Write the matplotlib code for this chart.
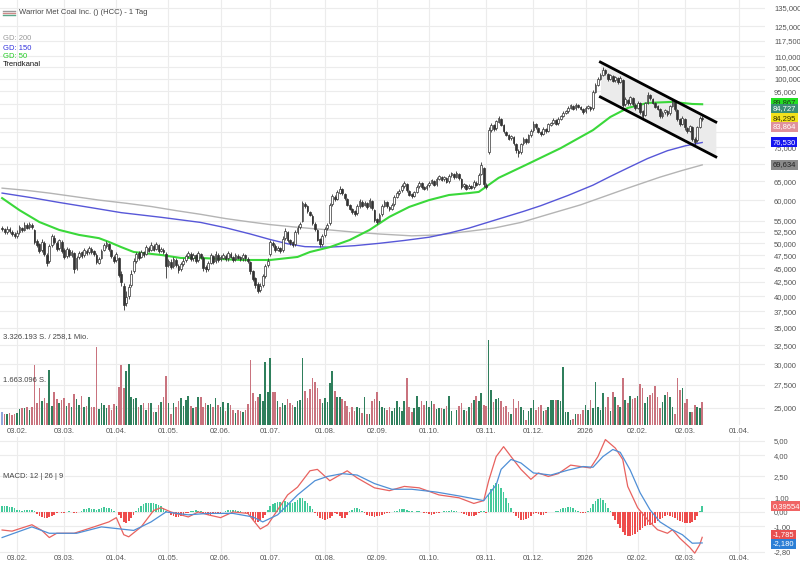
import matplotlib
matplotlib.use("Agg")
import matplotlib.pyplot as plt
from matplotlib.lines import Line2D
from matplotlib.ticker import FixedLocator, FuncFormatter, NullLocator
import numpy as np

plt.rcParams['font.family'] = ['Liberation Sans', 'DejaVu Sans']

# daily candles, one per trading day (index 0 = first visible day)
opens = [
    53.4, 53.1, 52.5, 53.0, 52.5, 52.1, 51.6, 52.4, 53.3, 52.9,
    54.1, 53.5, 54.1, 52.8, 50.4, 49.8, 48.6, 50.0, 47.6, 46.5,
    49.7, 51.2, 50.0, 49.0, 50.3, 48.6, 47.4, 48.7, 47.6, 47.9,
    45.0, 47.2, 48.1, 47.5, 48.4, 48.1, 48.8, 48.3, 47.6, 46.1,
    47.0, 48.6, 49.5, 49.8, 48.6, 47.1, 46.6, 46.9, 43.9, 41.8,
    38.9, 40.0, 42.0, 44.5, 46.4, 47.9, 47.2, 48.1, 47.8, 49.0,
    48.7, 49.5, 48.9, 49.6, 48.5, 48.7, 47.8, 45.7, 46.3, 45.4,
    46.6, 45.4, 44.8, 45.9, 46.6, 47.3, 47.8, 46.9, 47.5, 46.6,
    47.7, 47.0, 45.2, 44.9, 46.1, 47.3, 46.4, 47.6, 46.8, 47.0,
    47.4, 46.9, 47.8, 47.1, 46.8, 47.4, 47.1, 46.9, 47.5, 46.8,
    46.2, 44.4, 43.1, 42.1, 41.0, 42.0, 43.6, 45.6, 47.8, 50.0,
    49.5, 48.7, 49.0, 48.6, 51.2, 52.4, 50.6, 50.2, 49.8, 52.4,
    53.5, 55.0, 59.0, 58.4, 57.0, 56.2, 54.3, 52.8, 50.9, 49.9,
    51.7, 53.3, 54.5, 59.0, 60.8, 60.3, 61.9, 62.8, 61.6, 60.3,
    58.7, 57.8, 57.2, 56.8, 58.5, 59.6, 58.8, 59.2, 58.4, 59.8,
    57.6, 55.3, 55.0, 56.6, 58.6, 59.4, 58.2, 57.9, 59.0, 60.9,
    61.7, 62.5, 63.6, 64.2, 62.4, 61.5, 61.1, 62.2, 63.6, 64.4,
    63.5, 63.1, 63.9, 64.6, 65.0, 64.2, 65.7, 66.1, 65.5, 65.8,
    65.0, 66.6, 67.0, 66.2, 67.1, 65.5, 63.6, 64.0, 63.2, 63.6,
    63.4, 64.6, 64.3, 67.0, 68.8, 64.0, 73.5, 80.6, 82.3, 81.2,
    83.4, 84.5, 82.2, 80.0, 78.8, 77.9, 78.3, 76.0, 73.8, 73.5,
    76.2, 77.6, 76.8, 78.9, 80.6, 82.6, 81.3, 79.9, 79.4, 80.9,
    80.4, 82.4, 83.1, 84.0, 83.0, 84.5, 85.6, 86.6, 87.3, 88.5,
    89.3, 88.4, 89.6, 88.9, 88.0, 87.2, 88.5, 89.0, 88.3, 94.8,
    97.6, 100.0, 101.8, 103.8, 102.2, 100.2, 101.2, 99.4, 100.6, 98.8,
    99.5, 90.0, 91.6, 90.4, 92.4, 89.8, 88.6, 90.3, 87.2, 86.0,
    90.5, 93.4, 92.0, 90.3, 89.2, 88.0, 85.6, 86.9, 87.4, 86.5,
    89.4, 90.8, 87.6, 84.3, 82.8, 84.6, 81.4, 80.4, 81.6, 77.8,
    77.2, 81.8, 84.8]
highs = [
    53.8, 53.4, 53.7, 53.5, 52.9, 52.5, 52.8, 53.9, 53.6, 54.6,
    54.5, 54.8, 54.4, 53.1, 50.9, 50.1, 50.9, 50.4, 48.0, 49.9,
    52.0, 51.7, 50.4, 51.0, 50.6, 49.0, 49.3, 49.1, 48.6, 48.2,
    47.4, 48.5, 48.5, 49.0, 48.8, 49.5, 49.2, 48.6, 47.9, 47.2,
    48.9, 50.0, 50.5, 50.1, 48.9, 47.5, 48.2, 47.2, 44.4, 42.3,
    40.8, 42.2, 44.6, 47.0, 48.2, 48.3, 48.7, 48.4, 49.6, 49.4,
    50.2, 49.8, 50.3, 49.9, 49.2, 49.0, 48.1, 46.8, 46.7, 47.2,
    46.9, 45.8, 46.2, 46.9, 47.8, 48.5, 48.1, 48.0, 47.8, 48.4,
    48.0, 47.3, 45.6, 46.4, 47.9, 47.6, 48.3, 47.9, 47.6, 47.9,
    47.7, 48.4, 48.1, 47.4, 47.9, 47.7, 47.4, 48.0, 47.8, 47.1,
    46.5, 44.7, 43.4, 42.4, 42.3, 43.9, 45.8, 46.9, 50.7, 50.4,
    49.8, 49.4, 49.3, 51.5, 53.4, 52.7, 50.9, 50.5, 52.9, 53.9,
    54.7, 59.8, 59.5, 58.7, 57.4, 56.5, 54.6, 53.1, 51.2, 52.0,
    53.6, 54.5, 59.3, 61.6, 61.2, 62.5, 63.7, 63.1, 61.9, 60.6,
    59.0, 58.1, 57.5, 58.9, 60.4, 59.9, 59.7, 59.5, 60.6, 60.1,
    57.9, 55.6, 56.8, 58.9, 60.0, 59.7, 58.5, 59.2, 61.2, 62.3,
    62.8, 64.3, 64.9, 64.5, 62.7, 61.8, 62.4, 63.9, 65.1, 64.7,
    63.8, 64.2, 64.9, 65.6, 65.3, 66.0, 66.8, 66.4, 66.3, 66.1,
    66.9, 67.6, 67.3, 67.9, 67.4, 65.8, 64.6, 64.3, 64.1, 63.9,
    65.2, 64.9, 67.3, 70.4, 69.1, 64.4, 81.6, 83.2, 82.7, 84.2,
    85.6, 84.9, 82.6, 80.4, 79.2, 79.0, 78.7, 76.4, 74.3, 76.5,
    78.3, 78.0, 79.3, 80.9, 83.8, 83.0, 81.7, 80.3, 81.5, 81.3,
    83.1, 83.5, 84.7, 84.4, 85.1, 85.9, 87.3, 87.7, 89.1, 90.0,
    89.7, 90.3, 90.0, 89.3, 88.4, 89.1, 89.7, 89.4, 95.5, 98.3,
    101.0, 102.4, 105.2, 104.3, 102.6, 102.2, 101.6, 101.4, 101.0, 101.2,
    100.2, 92.5, 92.0, 93.2, 92.8, 90.3, 91.1, 90.7, 87.6, 90.8,
    94.6, 93.9, 92.4, 90.7, 89.6, 88.4, 87.3, 88.1, 87.8, 89.8,
    91.7, 91.2, 88.0, 84.7, 85.6, 85.0, 81.8, 82.5, 82.0, 78.3,
    82.0, 85.6, 85.4]
lows = [
    52.6, 52.0, 52.1, 52.2, 51.6, 51.1, 51.2, 52.1, 52.4, 52.6,
    53.0, 53.2, 53.2, 49.8, 49.2, 48.0, 48.2, 47.3, 45.5, 46.1,
    49.3, 49.8, 48.4, 48.6, 48.0, 46.8, 47.0, 47.1, 47.2, 44.2,
    44.6, 46.8, 46.9, 47.1, 47.6, 47.7, 47.8, 47.4, 45.9, 45.8,
    46.7, 48.3, 49.1, 48.4, 46.9, 46.0, 46.2, 43.3, 41.8, 37.7,
    38.4, 39.5, 41.6, 44.1, 46.0, 46.6, 46.9, 47.2, 47.5, 48.1,
    48.4, 48.3, 48.6, 48.0, 48.1, 47.8, 43.2, 45.3, 44.8, 45.0,
    45.2, 44.2, 44.4, 45.5, 46.2, 47.0, 46.4, 46.5, 46.0, 46.2,
    46.8, 44.5, 44.3, 44.5, 45.8, 45.8, 46.0, 46.2, 46.4, 46.7,
    46.4, 46.5, 46.9, 46.2, 46.4, 46.7, 46.4, 46.5, 46.5, 46.0,
    44.0, 42.6, 41.4, 40.6, 40.7, 41.6, 43.2, 45.2, 47.4, 49.2,
    48.2, 48.3, 47.9, 48.2, 50.8, 50.3, 49.6, 49.2, 49.5, 52.0,
    53.1, 54.6, 58.1, 56.8, 56.0, 54.1, 52.6, 50.4, 49.3, 49.5,
    51.3, 52.9, 54.1, 58.6, 59.8, 59.9, 61.5, 61.4, 60.1, 58.4,
    57.5, 56.6, 56.2, 56.4, 58.1, 58.2, 58.4, 57.8, 58.0, 57.6,
    54.7, 54.3, 54.6, 56.2, 58.2, 58.0, 57.4, 57.5, 58.6, 60.5,
    61.3, 62.1, 63.2, 62.2, 61.0, 60.6, 60.7, 61.8, 63.2, 63.0,
    62.6, 62.7, 63.5, 64.2, 63.6, 63.8, 65.3, 65.0, 65.1, 64.4,
    64.6, 66.2, 65.6, 65.8, 65.4, 63.0, 63.2, 62.6, 62.8, 62.8,
    63.0, 63.6, 63.9, 66.6, 63.4, 62.9, 72.8, 80.0, 80.4, 80.7,
    82.9, 82.0, 79.6, 78.5, 77.3, 77.4, 75.6, 73.2, 72.0, 73.0,
    75.7, 76.1, 76.3, 78.4, 80.1, 81.0, 79.5, 78.7, 78.9, 79.7,
    79.9, 81.9, 82.6, 82.3, 82.5, 84.0, 85.1, 86.1, 86.8, 88.0,
    87.7, 87.9, 88.5, 87.7, 86.4, 86.7, 88.0, 87.5, 87.8, 94.2,
    97.0, 99.4, 101.2, 101.9, 99.3, 99.6, 98.6, 98.8, 98.0, 98.2,
    89.0, 89.4, 89.6, 89.8, 89.4, 87.8, 88.0, 86.4, 85.0, 85.5,
    90.0, 91.6, 89.9, 88.4, 87.6, 84.8, 85.0, 86.3, 85.6, 86.0,
    88.8, 87.4, 83.8, 82.0, 82.2, 80.8, 79.5, 79.8, 77.0, 75.7,
    76.6, 81.2, 83.6]
closes = [
    53.0, 52.4, 53.2, 52.6, 52.0, 51.5, 52.3, 53.5, 52.8, 54.0,
    53.4, 54.3, 53.6, 50.2, 49.6, 48.5, 50.3, 47.8, 46.0, 49.5,
    51.5, 50.2, 48.8, 50.6, 48.4, 47.2, 48.9, 47.5, 48.2, 44.8,
    47.0, 48.0, 47.3, 48.6, 48.0, 49.0, 48.2, 47.8, 46.3, 46.8,
    48.5, 49.6, 50.0, 48.8, 47.3, 46.4, 47.8, 43.8, 42.5, 38.5,
    39.8, 41.5, 44.0, 46.5, 47.8, 47.0, 48.2, 47.6, 49.2, 48.5,
    49.6, 48.7, 49.8, 48.4, 48.8, 48.2, 45.5, 46.4, 45.2, 46.8,
    45.6, 44.6, 45.8, 46.5, 47.4, 48.0, 46.8, 47.6, 46.4, 47.9,
    47.2, 45.0, 44.8, 46.0, 47.5, 46.2, 47.8, 46.6, 47.2, 47.5,
    46.8, 47.9, 47.2, 46.6, 47.5, 47.0, 46.8, 47.6, 46.9, 46.4,
    44.5, 43.0, 42.0, 40.8, 41.8, 43.5, 45.4, 46.5, 50.2, 49.6,
    48.6, 49.0, 48.3, 51.0, 52.6, 50.8, 50.0, 49.6, 52.5, 53.4,
    54.2, 59.2, 58.6, 57.2, 56.4, 54.5, 53.0, 50.8, 49.8, 51.6,
    53.2, 54.0, 58.8, 61.0, 60.2, 62.0, 63.0, 61.8, 60.5, 58.8,
    57.9, 57.0, 56.6, 58.4, 59.8, 58.6, 59.3, 58.2, 60.0, 58.0,
    55.2, 54.8, 56.4, 58.5, 59.5, 58.4, 57.8, 58.8, 60.8, 61.8,
    62.4, 63.8, 64.4, 62.6, 61.4, 61.0, 62.0, 63.5, 64.6, 63.4,
    63.0, 63.8, 64.5, 65.2, 64.0, 65.6, 66.3, 65.4, 66.0, 64.8,
    66.5, 67.2, 66.0, 67.4, 65.8, 63.4, 64.2, 63.0, 63.8, 63.2,
    64.8, 64.0, 66.8, 69.5, 64.2, 63.5, 80.8, 82.5, 81.0, 83.6,
    84.8, 82.5, 80.2, 79.0, 77.8, 78.6, 76.2, 74.0, 73.2, 76.0,
    77.8, 76.6, 78.8, 80.4, 82.8, 81.5, 80.0, 79.2, 81.0, 80.2,
    82.6, 83.0, 84.2, 82.8, 84.6, 85.4, 86.8, 87.2, 88.6, 89.5,
    88.2, 89.8, 89.0, 88.2, 87.0, 88.6, 89.2, 88.0, 94.5, 97.5,
    100.2, 101.5, 104.0, 102.5, 100.0, 101.5, 99.2, 100.8, 98.6, 100.5,
    89.8, 91.8, 90.2, 92.6, 90.0, 88.4, 90.5, 87.0, 85.6, 90.2,
    93.6, 92.2, 90.5, 89.0, 88.2, 85.4, 86.8, 87.6, 86.2, 89.2,
    91.0, 88.0, 84.5, 82.6, 85.0, 81.5, 80.2, 82.0, 77.6, 76.8,
    81.5, 85.0, 84.3]

# volume in million shares
volume_mio = [
    0.52, 0.45, 0.42, 0.46, 0.40, 0.44, 0.48, 0.62, 0.68, 0.66,
    0.72, 0.58, 0.70, 2.35, 0.85, 1.43, 0.95, 1.05, 0.85, 2.15,
    0.75, 1.30, 1.00, 0.85, 0.98, 1.05, 0.75, 0.85, 0.70, 1.20,
    1.00, 0.80, 1.15, 0.70, 0.75, 1.10, 0.70, 0.72, 3.06, 0.62,
    0.85, 0.78, 0.65, 0.80, 0.60, 0.82, 0.75, 1.50, 2.35, 1.43,
    2.10, 2.40, 1.10, 1.00, 1.05, 0.70, 0.78, 0.85, 0.60, 0.85,
    0.85, 0.50, 0.50, 0.78, 0.90, 1.10, 1.93, 0.85, 0.45, 0.85,
    0.72, 0.95, 1.05, 0.75, 0.98, 1.15, 0.75, 0.68, 0.72, 1.08,
    1.08, 0.70, 0.85, 0.78, 0.82, 0.72, 1.05, 0.80, 0.70, 0.90,
    0.55, 0.88, 0.80, 0.60, 0.48, 0.60, 0.55, 0.52, 0.58, 0.82,
    2.54, 1.25, 0.95, 1.10, 1.20, 0.95, 2.48, 1.30, 2.63, 1.30,
    1.28, 0.95, 0.72, 0.88, 0.78, 1.00, 0.88, 0.78, 0.72, 0.95,
    0.98, 2.63, 1.35, 1.05, 1.40, 1.83, 1.70, 1.45, 1.00, 0.85,
    1.05, 0.90, 1.63, 2.10, 1.35, 1.08, 1.10, 1.02, 0.95, 0.75,
    0.52, 0.72, 0.55, 0.72, 0.65, 0.48, 1.10, 0.45, 0.45, 0.92,
    1.00, 1.30, 0.95, 0.72, 0.65, 0.60, 0.70, 0.55, 0.65, 0.95,
    0.70, 0.55, 0.95, 1.83, 0.70, 0.50, 0.65, 1.15, 0.72, 0.95,
    0.80, 0.92, 0.70, 0.92, 0.82, 0.62, 0.68, 0.68, 0.62, 0.75,
    1.12, 0.55, 0.00, 0.60, 0.75, 0.88, 0.60, 0.55, 0.70, 0.85,
    0.98, 1.15, 0.95, 1.24, 0.80, 0.75, 3.33, 1.37, 0.90, 1.00,
    1.05, 0.92, 0.70, 0.75, 0.50, 0.42, 1.00, 0.68, 0.95, 0.70,
    0.60, 0.20, 0.55, 0.65, 0.98, 0.60, 0.72, 0.78, 0.55, 0.60,
    0.70, 0.98, 0.98, 0.98, 0.98, 0.93, 2.28, 0.52, 0.52, 0.20,
    0.25, 0.45, 0.45, 0.42, 0.58, 0.78, 0.60, 0.98, 0.65, 1.70,
    0.72, 0.58, 1.24, 0.72, 1.10, 0.55, 1.30, 1.10, 0.78, 0.72,
    1.85, 0.98, 0.85, 1.15, 1.00, 1.05, 1.12, 1.60, 1.45, 0.85,
    1.10, 1.18, 1.24, 1.52, 1.10, 0.65, 0.90, 1.18, 1.30, 1.10,
    0.72, 0.45, 1.85, 1.37, 1.43, 0.85, 1.00, 0.50, 0.50, 0.78,
    0.70, 0.65, 0.91]
volume_max_mio = 3.326193

# moving averages (sampled along the lines)
gd200_idx = [0, 10, 19, 29, 39, 50, 60, 70, 80, 90, 100, 108, 117, 125, 132, 142, 152, 165,
             176, 188, 198, 209, 220, 233, 242, 252, 265, 274, 282]
gd200_val = [63.1, 62.5, 61.8, 60.9, 60.0, 59.2, 58.4, 57.4, 56.5, 55.5, 54.7, 54.1, 53.6, 53.2, 52.9, 52.4, 52.0, 51.6,
             51.8, 52.6, 53.3, 54.6, 56.5, 58.8, 60.8, 63.1, 66.1, 68.0, 69.6]
gd150_idx = [0, 12, 23, 36, 48, 64, 80, 90, 100, 108, 115, 122, 132, 142, 152, 162, 172, 180,
             188, 200, 210, 217, 228, 238, 245, 252, 260, 268, 275, 282]
gd150_val = [61.8, 60.6, 59.4, 58.1, 56.9, 55.8, 54.6, 53.4, 52.0, 50.8, 49.9, 49.3, 49.2, 49.5, 50.0, 50.6, 51.3, 52.2,
             53.3, 55.4, 57.2, 58.6, 61.2, 63.9, 66.3, 68.7, 71.5, 73.9, 75.4, 76.5]
gd50_idx = [0, 7, 15, 23, 31, 39, 43, 48, 53, 64, 72, 80, 88, 96, 108, 119, 124, 132,
            140, 148, 156, 164, 172, 180, 188, 192, 200, 211, 225, 238, 245, 252, 260, 270, 278, 282]
gd50_val = [60.5, 57.5, 54.7, 52.9, 51.8, 51.1, 50.3, 49.2, 48.2, 47.6, 47.0, 47.0, 46.8, 46.6, 46.6, 47.2, 48.2, 49.2,
            50.7, 52.9, 55.9, 58.3, 60.0, 61.3, 61.8, 62.1, 65.9, 69.6, 74.7, 80.6, 85.2, 88.5, 90.4, 90.8, 90.0, 89.9]

# trend channel
channel_idx = [241, 287.5]
channel_upper = [107.4, 83.4]
channel_lower = [92.7, 72.0]

# MACD 12/26/9
macd_hist = [
    0.40, 0.45, 0.42, 0.38, 0.35, 0.30,
    0.15, 0.12, 0.10, 0.12, 0.15, 0.14, 0.12, 0.10,
    -0.15, -0.25, -0.35, -0.40, -0.45, -0.38, -0.30, -0.20,
    -0.05, 0.02, -0.08, -0.04, 0.03, 0.05, -0.03, -0.10, -0.06, 0.02,
    0.10, 0.18, 0.20, 0.25, 0.22, 0.18, 0.12, 0.20, 0.28, 0.32, 0.30, 0.25, 0.18, 0.10, 0.02,
    -0.20, -0.45, -0.70, -0.75, -0.65, -0.45, -0.20,
    0.10, 0.30, 0.45, 0.55, 0.62, 0.65, 0.64, 0.60, 0.55, 0.48, 0.40, 0.28, 0.10,
    -0.10, -0.22, -0.30, -0.35, -0.32, -0.25, -0.18, -0.10, -0.04,
    0.05, 0.10, 0.12, 0.08, 0.04, -0.05,
    -0.12, -0.18, -0.20, -0.15, -0.12, -0.08, -0.05, -0.02,
    0.05, 0.12, 0.15, 0.15, 0.12, 0.08, 0.05, 0.02, -0.04,
    -0.15, -0.35, -0.55, -0.70, -0.72, -0.60, -0.45, -0.20,
    0.15, 0.40, 0.55, 0.62, 0.70, 0.68, 0.72, 0.75, 0.70, 0.62, 0.60,
    0.70, 0.85, 1.00, 0.95, 0.80, 0.60, 0.40, 0.20,
    -0.05, -0.25, -0.40, -0.50, -0.55, -0.50, -0.40, -0.25, -0.10, -0.15, -0.30, -0.45, -0.40,
    -0.20, 0.05, 0.15, 0.25, 0.30, 0.22, 0.10,
    -0.10, -0.20, -0.25, -0.30, -0.35, -0.30, -0.25, -0.20, -0.15, -0.10, -0.05, 0.02, 0.05,
    0.10, 0.18, 0.22, 0.20, 0.15, 0.10, 0.05, 0.02, 0.05, 0.08,
    0.02, -0.05, -0.10, -0.15, -0.18, -0.12, -0.08, -0.05, 0.02, 0.05,
    0.08, 0.10, 0.12, 0.08, 0.05, 0.02, -0.08, -0.15, -0.22, -0.28, -0.30, -0.25,
    -0.20, -0.10, 0.10, 0.05, -0.05,
    1.20, 1.60, 1.90, 2.05, 1.95, 1.70, 1.40, 1.00, 0.60, 0.25,
    -0.10, -0.30, -0.45, -0.55, -0.55, -0.50, -0.40, -0.28, -0.12,
    -0.05, -0.15, -0.22, -0.18, -0.10, -0.03, 0.00, 0.02,
    0.05, 0.10, 0.18, 0.25, 0.30, 0.35, 0.32, 0.25, 0.15, 0.05,
    -0.05, -0.10, -0.08,
    0.10, 0.30, 0.55, 0.75, 0.90, 0.95, 0.85, 0.60, 0.30, 0.05,
    -0.30, -0.55, -0.85, -1.15, -1.40, -1.60, -1.70, -1.72, -1.65, -1.55, -1.40, -1.25,
    -1.10, -1.00, -0.95, -0.90, -0.85, -0.75, -0.65, -0.50, -0.40, -0.30, -0.20,
    -0.25, -0.35, -0.45, -0.55, -0.62, -0.70, -0.78, -0.80, -0.78, -0.70, -0.55, -0.30,
    0.10, 0.40]
macd_idx = [0, 4, 12, 16, 19, 22, 29, 37, 43, 46, 49, 51, 56, 61, 64, 68, 72, 75, 79, 83,
            88, 93, 99, 101, 104, 107, 111, 115, 119, 124, 127, 132, 136, 139, 143, 150, 156, 162, 168, 176,
            184, 190, 194, 196, 199, 202, 205, 209, 213, 216, 220, 224, 229, 233, 237, 240, 243, 247, 250, 252,
            256, 260, 264, 268, 270, 273, 277, 279, 281, 282]
macd_val = [-1.27, -1.35, -0.9, -1.3, -1.8, -1.5, -1.5, -1.05, -0.7, -0.4, -1.6, -1.75, -1.05, 0.1, 0.3, 0.0, -0.2, -0.35, 0.0, -0.2,
            -0.4, 0.0, -0.1, -0.55, -1.2, -0.9, 0.15, 1.2, 1.75, 2.9, 3.0, 2.2, 2.6, 2.9, 2.4, 1.7, 1.5, 1.8, 1.7, 1.2,
            1.0, 0.6, 0.8, 2.2, 3.9, 4.6, 3.9, 3.0, 2.3, 2.75, 2.5, 2.7, 3.3, 3.2, 3.1, 3.9, 5.1, 4.5, 3.7, 1.8,
            0.3, -0.55, -1.25, -1.5, -1.25, -1.85, -2.5, -2.9, -2.3, -1.785]
signal_idx = [0, 12, 19, 30, 40, 53, 60, 66, 75, 83, 93, 101, 105, 111, 115, 119, 126, 131, 137, 143,
              150, 157, 165, 175, 185, 194, 199, 201, 205, 209, 214, 221, 228, 234, 238, 242, 246, 249, 253, 257,
              261, 265, 270, 274, 278, 282]
signal_val = [-1.8, -1.05, -1.5, -1.5, -1.05, -1.3, -0.7, 0.0, -0.2, -0.1, -0.1, -0.35, -0.7, -0.2, 0.5, 1.2, 2.2, 2.5, 2.7, 2.6,
              2.0, 1.6, 1.6, 1.4, 1.1, 0.8, 1.9, 3.0, 3.7, 3.45, 2.75, 2.6, 2.95, 3.2, 3.15, 3.9, 4.4, 4.2, 2.95, 1.35,
              0.15, -0.7, -1.25, -1.6, -2.2, -2.18]

# axes labels
date_idx = [6, 25, 46, 67, 88, 108, 130, 151, 172, 195, 214, 235, 256, 275, 297]
date_labels = ["03.02.", "03.03.", "01.04.", "01.05.", "02.06.", "01.07.", "01.08.", "02.09.",
               "01.10.", "03.11.", "01.12.", "2026", "02.02.", "02.03.", "01.04."]
price_ticks = [135, 125, 117.5, 110, 105, 100, 95, 75, 65, 60, 55, 52.5, 50,
               47.5, 45, 42.5, 40, 37.5, 35, 32.5, 30, 27.5, 25]
price_grid = [90, 85, 80, 70]
macd_ticks = [5.0, 4.0, 2.5, 1.0, 0.0, -1.0, -2.8]

# value tags on the right
tag_values = [89.867, 84.727, 84.295, 83.864, 76.530, 69.634]
tag_text = ["89,867", "84,727", "84,295", "83,864", "76,530", "69,634"]
tag_bg = ["#22e022", "#3b8f74", "#f2e21c", "#e0909a", "#1515f0", "#8a8a8a"]
tag_fg = ["#1a3a1a", "#ffffff", "#333300", "#ffffff", "#ffffff", "#222222"]
tag_shift = [1.2, 6.7, 0.9, -4.5, 0, 0]
macd_tag_values = [0.39554, -1.785, -2.180]
macd_tag_text = ["0,39554", "-1,785", "-2,180"]
macd_tag_bg = ["#f06464", "#e85050", "#2c7fd6"]
macd_tag_shift = [0, 1.8, -0.8]

# ---------------------------------------------------------------
W, H = 800, 565
FS = 5.5
fig = plt.figure(figsize=(8, 5.65), dpi=100)
right = 765 / W
xlim = (-0.85, 307.3)
grid_c = "#ececec"
txt_c = "#555555"

ax = fig.add_axes([0, (H - 425) / H, right, 425 / H])
axv = fig.add_axes([0, (H - 425) / H, right, 90 / H])
axm = fig.add_axes([0, 10 / H, right, 118 / H])

o = np.array(opens)
h = np.array(highs)
l = np.array(lows)
c = np.array(closes)
x = np.arange(len(c))
up = c >= o

ax.set_yscale("log")
ax.set_ylim(23.23, 139.56)
ax.set_xlim(*xlim)
ax.set_axisbelow(True)
for g in price_grid:
    ax.axhline(g, color=grid_c, lw=0.8, zorder=0)

ax.fill_between(channel_idx, channel_lower, channel_upper, color="#ebebeb", lw=0, zorder=1)
ax.plot(gd200_idx, gd200_val, color="#b4b4b4", lw=1.0, zorder=2)
ax.plot(gd150_idx, gd150_val, color="#5757d8", lw=1.0, zorder=2)
ax.plot(gd50_idx, gd50_val, color="#3ad83a", lw=1.5, zorder=2)

ax.vlines(x, l, h, color="#333333", lw=0.6, zorder=3)
ax.bar(x[up], (c - o)[up], bottom=o[up], width=0.7, color="white", edgecolor="#333333", lw=0.5, zorder=4)
ax.bar(x[~up], (o - c)[~up], bottom=c[~up], width=0.7, color="#333333", edgecolor="#333333", lw=0.5, zorder=4)

ax.plot(channel_idx, channel_upper, color="black", lw=2, zorder=5)
ax.plot(channel_idx, channel_lower, color="black", lw=2, zorder=5)

ax.yaxis.set_major_locator(FixedLocator(price_ticks))
ax.yaxis.set_minor_locator(NullLocator())
ax.yaxis.set_major_formatter(FuncFormatter(lambda v, p: f"{v:.3f}".replace(".", ",")))
ax.yaxis.tick_right()
ax.set_xticks(date_idx)
ax.set_xticklabels(date_labels)
ax.tick_params(axis="y", length=0, pad=6.5, labelsize=FS, labelcolor=txt_c)
ax.tick_params(axis="x", length=0, pad=2.5, labelsize=FS, labelcolor=txt_c)
ax.grid(True, color=grid_c, lw=0.8)
for s in ax.spines.values():
    s.set_visible(False)

for val, t, bg, fg, dy in zip(tag_values, tag_text, tag_bg, tag_fg, tag_shift):
    ax.annotate(t, xy=(1, val), xycoords=("axes fraction", "data"), xytext=(5.5, dy),
                textcoords="offset points", va="center", ha="left", fontsize=FS, color=fg,
                bbox=dict(boxstyle="square,pad=0.2", fc=bg, ec="none"), annotation_clip=False, zorder=10)

# volume
vol = np.array(volume_mio)
xv = np.arange(len(vol))
vcol = ["#8fa6da"] + ["#2f7f5c" if closes[i] >= closes[i - 1] else "#c9737e" for i in range(1, len(vol))]
axv.bar(xv, vol, width=0.65, color=vcol, lw=0)
axv.set_xlim(*xlim)
axv.set_ylim(0, volume_max_mio * 90 / 85)
axv.axis("off")
axv.patch.set_alpha(0)

# MACD
hist = np.array(macd_hist)
xh = np.arange(len(hist))
axm.bar(xh, hist, width=0.65, color=np.where(hist >= 0, "#43c99a", "#ee4c4c"), lw=0)
axm.plot(macd_idx, macd_val, color="#e8625f", lw=0.9)
axm.plot(signal_idx, signal_val, color="#4f8fd6", lw=0.9)
axm.set_xlim(*xlim)
axm.set_ylim(-3.03, 5.28)
axm.set_axisbelow(True)
axm.set_yticks(macd_ticks)
axm.yaxis.set_major_formatter(FuncFormatter(lambda v, p: f"{v:.2f}".replace(".", ",")))
axm.yaxis.tick_right()
axm.set_xticks(date_idx)
axm.set_xticklabels(date_labels)
axm.tick_params(axis="y", length=0, pad=6.5, labelsize=FS, labelcolor=txt_c)
axm.tick_params(axis="x", length=0, pad=0, labelsize=FS, labelcolor=txt_c)
axm.grid(True, color=grid_c, lw=0.8)
for s in axm.spines.values():
    s.set_visible(False)
for val, t, bg, dy in zip(macd_tag_values, macd_tag_text, macd_tag_bg, macd_tag_shift):
    axm.annotate(t, xy=(1, val), xycoords=("axes fraction", "data"), xytext=(5.5, dy),
                 textcoords="offset points", va="center", ha="left", fontsize=FS, color="white",
                 bbox=dict(boxstyle="square,pad=0.2", fc=bg, ec="none"), annotation_clip=False, zorder=10)

# header / legend texts
def ftext(px, py, s, **kw):
    fig.text(px / W, 1 - py / H, s, va="center", ha="left", **kw)

for yy, col in zip([11, 13, 15], ["#999999", "#d08a8a", "#5aa88a"]):
    fig.add_artist(Line2D([3 / W, 15 / W], [1 - yy / H, 1 - yy / H], color=col, lw=1))
ftext(19, 13, "Warrior Met Coal Inc. () (HCC) - 1 Tag", fontsize=FS, color="#444444")
ftext(3, 39, "GD: 200", fontsize=FS, color="#9a9a9a")
ftext(3, 48, "GD: 150", fontsize=FS, color="#3333dd")
ftext(3, 56, "GD: 50", fontsize=FS, color="#22cc22")
ftext(3, 65, "Trendkanal", fontsize=FS, color="#111111")
ftext(3, 337, "3.326.193 S. / 258,1 Mio.", fontsize=FS, color="#444444")
ftext(3, 380, "1.663.096 S.", fontsize=FS, color="#444444")
ftext(3, 477, "MACD: 12 | 26 | 9", fontsize=FS, color="#444444")

fig.savefig("out.png", dpi=100)
